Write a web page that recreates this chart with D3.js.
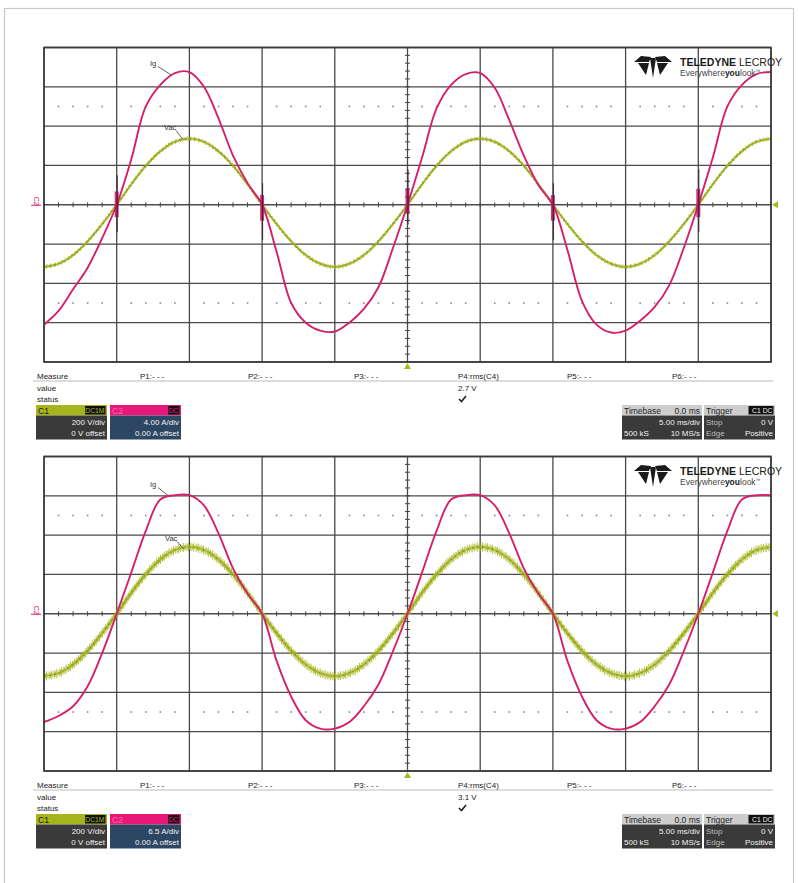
<!DOCTYPE html>
<html><head><meta charset="utf-8">
<script src="https://cdn.jsdelivr.net/npm/d3@7"></script>
<style>body{margin:0;background:#fff}svg{display:block;font-family:"Liberation Sans",Arial,sans-serif}</style>
</head><body><svg id="c" width="798" height="883"></svg>
<script>
// ---------- data ----------
const timeMs = [0,1,2,3,4,5,6,7,8,9,10,11,12,13,14,15,16,17,18,19,20,21,22,23,24,25,26,27,28,29,30,31,32,33,34,35,36,37,38,39,40,41,42,43,44,45,46,47,48,49,50];
const vacTopV = [-316,-300,-256,-186,-98,0,104,198,272,320,336,320,272,198,104,0,-98,-186,-256,-300,-316,-300,-256,-186,-98,0,104,198,272,320,336,320,272,198,104,0,-98,-186,-256,-300,-316,-300,-256,-186,-98,0,104,198,272,320,336];
const igTopA = [-12.2,-10.8,-8.6,-6.4,-3.4,0,4.6,10.0,12.2,13.4,13.5,12.0,8.8,5.0,2.2,0,-4.8,-10.0,-12.0,-12.8,-12.9,-12.0,-10.6,-8.4,-4.4,0,4.8,9.8,12.2,13.3,13.4,11.9,8.6,5.0,2.0,0,-4.6,-9.8,-12.2,-13.0,-12.8,-11.8,-10.4,-8.2,-4.4,0,4.8,10.0,12.2,13.3,13.5];
const vacBottomV = [-318,-302,-258,-188,-99,0,106,200,276,324,340,324,276,200,106,0,-99,-188,-258,-302,-318,-302,-258,-188,-99,0,106,200,276,324,340,324,276,200,106,0,-99,-188,-258,-302,-318,-302,-258,-188,-99,0,106,200,276,324,340];
const igBottomA = [-17.9,-16.9,-15.3,-12.0,-6.5,0,6.8,13.7,18.9,19.6,19.6,17.9,13.3,7.5,3.3,0,-7.8,-13.7,-17.6,-19.0,-19.0,-17.9,-15.3,-11.7,-6.2,0,6.8,13.7,18.9,19.6,19.6,17.9,13.3,7.5,3.3,0,-7.8,-13.7,-17.6,-19.0,-19.0,-17.9,-15.3,-11.7,-6.2,0,6.8,13.7,18.9,19.6,19.6];
const spikeTimesMs = [5,15,25,35,45];
const spikeHighA = [3.0,2.2,3.6,2.2,3.6];
const spikeLowA = [-2.8,-3.6,-2.0,-3.6,-2.8];
const measureLabels = ["P1:- - -","P2:- - -","P3:- - -","P4:rms(C4)","P5:- - -","P6:- - -"];
const measureValues = ["2.7 V","3.1 V"];
const ampsPerDiv = [4.0, 6.5];
const c2ScaleText = ["4.00 A/div","6.5 A/div"];
const voltsPerDiv = 200;

// ---------- drawing ----------
const svg = d3.select("#c");
svg.append("rect").attr("x",4.5).attr("y",8.5).attr("width",789).attr("height",880)
  .attr("fill","none").attr("stroke","#c8c8c8").attr("stroke-width",1.2);

const X0 = 44, X1 = 771;
const x = d3.scaleLinear().domain([0,50]).range([X0,X1]);

function panel(idx, yTop){
  const H = 314.5, yBot = yTop + H;
  const g = svg.append("g");
  const yV = d3.scaleLinear().domain([-4*voltsPerDiv, 4*voltsPerDiv]).range([yBot, yTop]);
  const aDiv = ampsPerDiv[idx];
  const yI = d3.scaleLinear().domain([-4*aDiv, 4*aDiv]).range([yBot, yTop]);
  const vac = idx===0 ? vacTopV : vacBottomV;
  const ig = idx===0 ? igTopA : igBottomA;

  // grid
  const gx = d3.range(0, 51, 5), gy = d3.range(-800, 801, 200);
  g.selectAll(".vx").data(gx).join("line").attr("x1",d=>x(d)).attr("x2",d=>x(d))
    .attr("y1",yTop).attr("y2",yBot).attr("stroke","#4a4a4a").attr("stroke-width",1.3);
  g.selectAll(".hy").data(gy).join("line").attr("y1",d=>yV(d)).attr("y2",d=>yV(d))
    .attr("x1",X0).attr("x2",X1).attr("stroke","#4a4a4a").attr("stroke-width",1.3);
  // dotted rows at +/-2.5 div
  const dotT = d3.range(0,50,1).filter(t=>t%5!==0);
  [500,-500].forEach(v=>{
    g.selectAll(null).data(dotT).join("rect").attr("x",d=>x(d)-0.8).attr("y",yV(v)-0.8)
      .attr("width",1.6).attr("height",1.6).attr("fill","#888");
  });
  // center ticks
  g.selectAll(null).data(d3.range(0,51,1)).join("line").attr("x1",d=>x(d)).attr("x2",d=>x(d))
    .attr("y1",yV(0)-2.5).attr("y2",yV(0)+2.5).attr("stroke","#444").attr("stroke-width",1);
  g.selectAll(null).data(d3.range(-800,801,40)).join("line").attr("y1",d=>yV(d)).attr("y2",d=>yV(d))
    .attr("x1",x(25)-2.5).attr("x2",x(25)+2.5).attr("stroke","#444").attr("stroke-width",1);

  // Vac hairy band
  const lineV = d3.line().x((d,i)=>x(timeMs[i])).y(d=>yV(d)).curve(d3.curveCatmullRom);
  const vPath = g.append("path").attr("d", lineV(vac)).attr("fill","none")
    .attr("stroke","#98a818").attr("stroke-width",1.3);
  const node = vPath.node(), L = node.getTotalLength();
  const half = idx===0 ? [1.8,1.2,2.2] : [4.0,2.8,4.6,2.2];
  const hair = [];
  for(let s=0, k=0; s<=L; s+=1.3, k++){ const p = node.getPointAtLength(s); hair.push([p.x,p.y,half[k%half.length]]); }
  g.insert("g", () => node).selectAll("line").data(hair).join("line")
    .attr("x1",d=>d[0]).attr("x2",d=>d[0]).attr("y1",d=>d[1]-d[2]).attr("y2",d=>d[1]+d[2])
    .attr("stroke","#aab926").attr("stroke-width",0.9);
  vPath.attr("stroke-dasharray","2 3").attr("stroke","#6f7d0c");
  g.append("path").attr("d", lineV(vac)).attr("fill","none").attr("stroke","#9fae1c").attr("stroke-width",1.1).attr("opacity",0.9);

  // Ig
  const lineI = d3.line().x((d,i)=>x(timeMs[i])).y(d=>yI(d)).curve(d3.curveCatmullRom);
  g.append("path").attr("d", lineI(ig)).attr("fill","none").attr("stroke","#d4206c").attr("stroke-width",1.9);

  // spikes at zero crossings (top only)
  if(idx===0){
    const sp = spikeTimesMs.map((t,i)=>({t, hi:spikeHighA[i], lo:spikeLowA[i]}));
    g.selectAll(null).data(sp).join("rect").attr("x",d=>x(d.t)-2).attr("width",4)
      .attr("y",d=>yI(d.hi*0.45)).attr("height",d=>yI(d.lo*0.45)-yI(d.hi*0.45)).attr("fill","#c2185f").attr("opacity",0.85);
    g.selectAll(null).data(sp).join("line").attr("x1",d=>x(d.t)+0.5).attr("x2",d=>x(d.t)+0.5)
      .attr("y1",d=>yI(d.hi)).attr("y2",d=>yI(d.lo)).attr("stroke","#3a2030").attr("stroke-width",1);
  }

  // frame
  g.append("rect").attr("x",X0).attr("y",yTop).attr("width",X1-X0).attr("height",H)
    .attr("fill","none").attr("stroke","#3a3a3a").attr("stroke-width",1.6);

  // markers
  const cy = yV(0);
  g.append("path").attr("d",`M${X1+1},${cy} l6,-3.5 v7 z`).attr("fill","#a8b820");
  g.append("path").attr("d",`M${x(25)},${yBot+1} l-3.5,6 h7 z`).attr("fill","#a8b820");
  g.append("text").attr("transform",`translate(${34},${cy-8}) rotate(90)`).attr("font-size",7)
    .attr("fill","#d4206c").text("C2");
  g.append("line").attr("x1",31).attr("x2",41).attr("y1",cy+0.5).attr("y2",cy+0.5).attr("stroke","#d4206c").attr("stroke-width",1);

  // labels
  const lab = idx===0 ? {ig:[150,yTop+18,172,yTop+28], vac:[164,yTop+82,183,yTop+92]}
                      : {ig:[150,yTop+30,168,yTop+39], vac:[165,yTop+84,184,yTop+93]};
  [["Ig",lab.ig],["Vac",lab.vac]].forEach(([t,a])=>{
    g.append("text").attr("x",a[0]).attr("y",a[1]).attr("font-size",7.5).attr("fill","#333").text(t);
    g.append("line").attr("x1",a[0]+(t==="Ig"?8:12)).attr("y1",a[1]+1).attr("x2",a[2]).attr("y2",a[3])
      .attr("stroke","#555").attr("stroke-width",0.9);
  });

  // logo
  const lg = g.append("g").attr("transform",`translate(0,${yTop-47.5})`);
  lg.append("path").attr("d",
    "M634,62 L641,56 L651,57 L649,62 Z " +
    "M672,62 L665,56 L655,57 L657,62 Z " +
    "M638,63 L649,63 L646,75 Z " +
    "M668,63 L657,63 L660,75 Z " +
    "M650,58 L656,58 L653,78 Z").attr("fill","#1a1a1a");
  const t1 = lg.append("text").attr("x",680).attr("y",66).attr("font-size",10.5).attr("fill","#1a1a1a");
  t1.append("tspan").attr("font-weight","bold").text("TELEDYNE ");
  t1.append("tspan").text("LECROY");
  const t2 = lg.append("text").attr("x",680).attr("y",75.5).attr("font-size",8.5).attr("fill","#444");
  t2.append("tspan").text("Everywhere");
  t2.append("tspan").attr("font-weight","bold").attr("fill","#222").text("you");
  t2.append("tspan").text("look");
  t2.append("tspan").attr("font-size",5).attr("dy",-3).text("™");

  // measure area
  const my = yBot;
  g.append("line").attr("x1",33).attr("x2",773).attr("y1",my+19).attr("y2",my+19).attr("stroke","#bbb").attr("stroke-width",1);
  const fs = 8;
  g.append("text").attr("x",37).attr("y",my+17).attr("font-size",fs).attr("fill","#222").text("Measure");
  g.append("text").attr("x",37).attr("y",my+28.5).attr("font-size",fs).attr("fill","#222").text("value");
  g.append("text").attr("x",37).attr("y",my+40).attr("font-size",fs).attr("fill","#222").text("status");
  const px = [140,248,354,458,567,672];
  g.selectAll(null).data(measureLabels).join("text").attr("x",(d,i)=>px[i]).attr("y",my+17)
    .attr("font-size",fs).attr("fill","#222").text(d=>d);
  g.append("text").attr("x",458).attr("y",my+28.5).attr("font-size",fs).attr("fill","#222").text(measureValues[idx]);
  g.append("path").attr("d",`M459,${my+37} l2.5,2.5 l4.5,-5.5`).attr("fill","none").attr("stroke","#222").attr("stroke-width",1.6);

  // channel boxes
  const by = my + 43;
  function box(x0,w,headCol,headTxt,headTxtCol,badge,badgeCol,bodyCol,rows){
    g.append("rect").attr("x",x0).attr("y",by).attr("width",w).attr("height",10.5).attr("fill",headCol);
    g.append("rect").attr("x",x0).attr("y",by+10.5).attr("width",w).attr("height",24).attr("fill",bodyCol);
    g.append("text").attr("x",x0+2).attr("y",by+8.5).attr("font-size",8.5).attr("fill",headTxtCol).text(headTxt);
    if(badge){
      const bw = badge.length*4.6+2;
      g.append("rect").attr("x",x0+w-bw-1.5).attr("y",by+1).attr("width",bw).attr("height",8.5).attr("fill","#111");
      g.append("text").attr("x",x0+w-2.5).attr("y",by+8).attr("text-anchor","end").attr("font-size",6.8).attr("fill",badgeCol).text(badge);
    }
    rows.forEach((r,i)=>{
      r.forEach(c=>{
        g.append("text").attr("x",c.a==="end"?x0+w-2:x0+2).attr("y",by+19.5+i*11).attr("text-anchor",c.a)
          .attr("font-size",8).attr("fill",c.col||"#f2f2f2").text(c.t);
      });
    });
  }
  box(36,71,"#a6b41e","C1","#1a1a1a","DC1M","#a6b41e","#3a3a3a",[[{t:"200 V/div",a:"end"}],[{t:"0 V offset",a:"end"}]]);
  box(110,71,"#e8187a","C2","#ff6fae","DC","#e8187a","#2d4663",[[{t:c2ScaleText[idx],a:"end"}],[{t:"0.00 A offset",a:"end"}]]);
  box(622,80,"#cdcdcd","Timebase","#222",null,null,"#3a3a3a",[[{t:"5.00 ms/div",a:"end"}],[{t:"500 kS",a:"start"},{t:"10 MS/s",a:"end"}]]);
  g.append("text").attr("x",700).attr("y",by+8.5).attr("text-anchor","end").attr("font-size",8.5).attr("fill","#222").text("0.0 ms");
  box(704,71,"#cdcdcd","Trigger","#222","C1 DC","#f0f0f0","#3a3a3a",[[{t:"Stop",a:"start",col:"#bdbdbd"},{t:"0 V",a:"end"}],[{t:"Edge",a:"start",col:"#bdbdbd"},{t:"Positive",a:"end"}]]);
}
panel(0, 47.5);
panel(1, 456.5);
</script></body></html>
